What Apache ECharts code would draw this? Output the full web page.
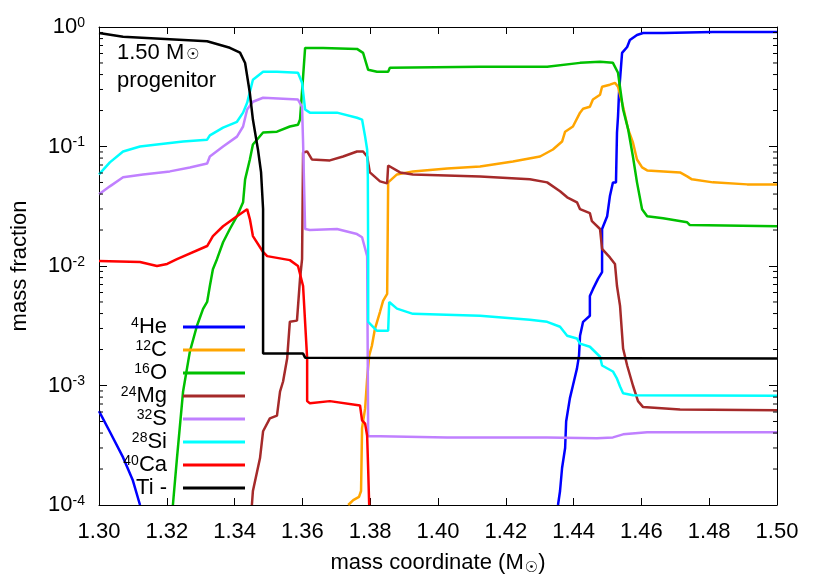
<!DOCTYPE html>
<html>
<head>
<meta charset="utf-8">
<script src="https://cdn.jsdelivr.net/npm/echarts@6/dist/echarts.min.js"></script>
<style>
html,body{margin:0;padding:0;background:#fff;}
#chart{width:830px;height:581px;}
</style>
</head>
<body>
<div id="chart"></div>
<script>
// ---- data (mass coordinate, mass fraction) ----
const xTicks = [1.30, 1.32, 1.34, 1.36, 1.38, 1.40, 1.42, 1.44, 1.46, 1.48, 1.50];
const yMinorTicks = [2e-4,3e-4,4e-4,5e-4,6e-4,7e-4,8e-4,9e-4,
                     2e-3,3e-3,4e-3,5e-3,6e-3,7e-3,8e-3,9e-3,
                     2e-2,3e-2,4e-2,5e-2,6e-2,7e-2,8e-2,9e-2,
                     0.2,0.3,0.4,0.5,0.6,0.7,0.8,0.9];
const names = ['4He','12C','16O','24Mg','32S','28Si','40Ca','Ti -'];
const colors = ['#0000ff','#ffa500','#00c000','#a52a2a','#c080ff','#00ffff','#ff0000','#000000'];

const he = [[1.3000,6.1e-4],[1.3032,4.1e-4],[1.3071,2.5e-4],[1.3100,1.6e-4],[1.3121,1.0e-4],
  [1.40,'-'],
  [1.4354,1.0e-4],[1.4360,1.31e-4],[1.4366,2.04e-4],[1.4375,3.0e-4],[1.4378,5.0e-4],[1.4389,7.8e-4],
  [1.4398,1.0e-3],[1.4410,1.39e-3],[1.4416,1.78e-3],[1.4419,2.61e-3],[1.4428,3.41e-3],[1.4448,3.83e-3],
  [1.4448,5.6e-3],[1.4457,6.4e-3],[1.4472,7.8e-3],[1.4484,8.9e-3],[1.4484,2.04e-2],[1.4499,2.61e-2],
  [1.4507,3.83e-2],[1.4516,5.0e-2],[1.4525,5.0e-2],[1.4528,0.131],[1.4531,0.178],[1.4534,0.282],
  [1.4543,0.607],[1.4558,0.681],[1.4566,0.779],[1.4587,0.858],[1.4605,0.891],[1.4664,0.891],
  [1.4811,0.909],[1.5000,0.909]];

const c12 = [[1.3735,1.0e-4],[1.3750,1.10e-4],[1.3767,1.17e-4],[1.3773,1.31e-4],[1.3776,4.4e-4],
  [1.3779,5.0e-4],[1.3785,6.4e-4],[1.3791,1.14e-3],[1.3797,1.78e-3],[1.3805,2.15e-3],[1.3814,2.98e-3],
  [1.3829,4.14e-3],[1.3838,5.11e-3],[1.3850,5.84e-3],[1.3853,0.0501],[1.3856,0.0501],[1.3879,0.0584],
  [1.3926,0.0619],[1.4027,0.0656],[1.4124,0.0681],[1.4221,0.075],[1.4301,0.0825],[1.4339,0.0944],
  [1.4366,0.110],[1.4375,0.133],[1.4398,0.147],[1.4419,0.192],[1.4428,0.207],[1.4448,0.215],
  [1.4457,0.247],[1.4478,0.271],[1.4484,0.316],[1.4507,0.329],[1.4522,0.341],[1.4531,0.316],
  [1.4546,0.215],[1.4561,0.139],[1.4575,0.108],[1.4587,0.0779],[1.4602,0.0668],[1.4617,0.0631],
  [1.4714,0.0607],[1.4735,0.0562],[1.4749,0.0531],[1.4811,0.0501],[1.4912,0.0482],[1.5000,0.0482]];

const o16 = [[1.3218,1.0e-4],[1.3230,2.47e-4],[1.3248,8.9e-4],[1.3268,1.92e-3],[1.3289,3.16e-3],
  [1.3307,4.38e-3],[1.3319,5.0e-3],[1.3327,6.8e-3],[1.3336,9.4e-3],[1.3348,0.0114],[1.3366,0.0158],
  [1.3386,0.0204],[1.3407,0.0261],[1.3425,0.0341],[1.3431,0.0531],[1.3445,0.0779],[1.3454,0.104],
  [1.3484,0.131],[1.3525,0.133],[1.3563,0.147],[1.3587,0.152],[1.3593,0.168],[1.3602,0.383],
  [1.3608,0.668],[1.3661,0.668],[1.3761,0.656],[1.3779,0.607],[1.3794,0.438],[1.3820,0.422],
  [1.3853,0.422],[1.3858,0.455],[1.4124,0.464],[1.4322,0.464],[1.4419,0.501],[1.4478,0.511],
  [1.4516,0.501],[1.4531,0.414],[1.4546,0.204],[1.4561,0.139],[1.4575,0.0825],[1.4587,0.0501],
  [1.4602,0.0299],[1.4617,0.0261],[1.4664,0.0251],[1.4735,0.0232],[1.4743,0.0220],[1.5000,0.0215]];

const mg24 = [[1.3451,1.0e-4],[1.3454,1.31e-4],[1.3475,2.47e-4],[1.3484,4.14e-4],[1.3504,5.3e-4],
  [1.3525,5.6e-4],[1.3534,8.9e-4],[1.3543,1.08e-3],[1.3555,1.68e-3],[1.3563,3.42e-3],[1.3584,3.49e-3],
  [1.3593,7.8e-3],[1.3599,0.0114],[1.3602,0.0891],[1.3614,0.0909],[1.3628,0.0779],[1.3681,0.0765],
  [1.3720,0.0825],[1.3761,0.0909],[1.3779,0.0909],[1.3791,0.0825],[1.3799,0.0607],[1.3829,0.0511],
  [1.3850,0.0491],[1.3853,0.0694],[1.3888,0.0607],[1.3926,0.0584],[1.4124,0.0562],[1.4271,0.0531],
  [1.4322,0.0501],[1.4360,0.0422],[1.4381,0.0376],[1.4410,0.0341],[1.4419,0.0299],[1.4448,0.0277],
  [1.4454,0.0237],[1.4478,0.0204],[1.4484,0.0139],[1.4507,0.0118],[1.4522,0.0104],[1.4528,6.8e-3],
  [1.4537,4.64e-3],[1.4546,2.04e-3],[1.4558,1.47e-3],[1.4575,1.0e-3],[1.4590,7.4e-4],[1.4605,6.6e-4],
  [1.4714,6.3e-4],[1.5000,6.2e-4]];

const s32 = [[1.3000,0.0398],[1.3032,0.0464],[1.3071,0.0552],[1.3130,0.0584],[1.3209,0.0619],
  [1.3268,0.0668],[1.3319,0.0721],[1.3327,0.0825],[1.3366,0.100],[1.3407,0.121],[1.3425,0.147],
  [1.3437,0.204],[1.3454,0.237],[1.3484,0.256],[1.3543,0.251],[1.3587,0.247],[1.3599,0.215],
  [1.3602,0.108],[1.3608,0.0204],[1.3622,0.0200],[1.3702,0.0204],[1.3761,0.0185],[1.3776,0.0174],
  [1.3791,0.0121],[1.3794,3.76e-4],[1.3829,3.76e-4],[1.4027,3.68e-4],[1.4322,3.68e-4],[1.4469,3.62e-4],
  [1.4516,3.68e-4],[1.4546,3.90e-4],[1.4617,4.06e-4],[1.5000,4.06e-4]];

const si28 = [[1.3000,0.0584],[1.3032,0.0736],[1.3071,0.0909],[1.3121,0.100],[1.3171,0.104],
  [1.3248,0.110],[1.3319,0.114],[1.3327,0.124],[1.3366,0.144],[1.3407,0.161],[1.3425,0.192],
  [1.3437,0.232],[1.3454,0.362],[1.3484,0.422],[1.3525,0.422],[1.3587,0.414],[1.3599,0.341],
  [1.3608,0.204],[1.3622,0.192],[1.3702,0.192],[1.3761,0.174],[1.3776,0.168],[1.3785,0.121],
  [1.3791,0.0944],[1.3793,0.0562],[1.3794,0.0114],[1.3794,3.41e-3],[1.3799,3.29e-3],[1.3820,2.87e-3],
  [1.3853,2.87e-3],[1.3856,5.0e-3],[1.3879,4.4e-3],[1.3926,3.98e-3],[1.4124,3.83e-3],[1.4271,3.55e-3],
  [1.4322,3.41e-3],[1.4360,3.10e-3],[1.4381,2.61e-3],[1.4410,2.47e-3],[1.4419,2.24e-3],[1.4448,2.11e-3],
  [1.4478,1.74e-3],[1.4484,1.47e-3],[1.4516,1.31e-3],[1.4528,1.14e-3],[1.4537,9.8e-4],[1.4546,8.6e-4],
  [1.4575,8.3e-4],[1.5000,8.2e-4]];

const ca40 = [[1.3000,0.0110],[1.3121,0.0108],[1.3171,0.0100],[1.3201,0.0104],[1.3230,0.0114],
  [1.3319,0.0147],[1.3336,0.0178],[1.3366,0.0215],[1.3407,0.0261],[1.3437,0.0299],[1.3445,0.0247],
  [1.3454,0.0178],[1.3484,0.0131],[1.3496,0.0121],[1.3563,0.0112],[1.3587,0.0100],[1.3602,6.8e-3],
  [1.3614,1.68e-3],[1.3614,7.4e-4],[1.3622,7.1e-4],[1.3681,7.4e-4],[1.3770,6.8e-4],[1.3776,5.1e-4],
  [1.3785,4.8e-4],[1.3791,3.8e-4],[1.3794,2.0e-4],[1.3797,1.0e-4]];

const ti = [[1.3000,0.89],[1.3071,0.83],[1.3319,0.76],[1.3386,0.67],[1.3416,0.61],[1.3431,0.50],
  [1.3445,0.28],[1.3454,0.168],[1.3469,0.094],[1.3478,0.061],[1.3484,0.030],[1.3484,1.85e-3],
  [1.3602,1.85e-3],[1.3608,1.71e-3],[1.5000,1.68e-3]];

const seriesData = [he, c12, o16, mg24, s32, si28, ca40, ti];

// ---- chart ----
const FONT = '"Liberation Sans", Arial, Helvetica, sans-serif';
const SUN = '"DejaVu Sans", sans-serif';
const chart = echarts.init(document.getElementById('chart'), null, {renderer: 'canvas'});

function legendLabel(name) {
  const m = name.match(/^(\d+)(.*)$/);
  return m ? '{s|' + m[1] + '}{n|' + m[2] + '}' : '{n|' + name + '}';
}
function expLabel(v) {
  const e = Math.round(Math.log10(v));
  return '{b|10}{e|' + e + '}';
}

const lineSeries = names.map((n, i) => ({
  name: n,
  type: 'line',
  data: seriesData[i],
  symbol: 'none',
  showSymbol: false,
  clip: true,
  color: colors[i],
  lineStyle: {color: colors[i], width: 2.5},
  z: 2 + i * 0.01,
  animation: false
}));

const minorTickSeries = {
  type: 'custom',
  name: 'minorTicks',
  silent: true,
  clip: false,
  xAxisIndex: 0,
  yAxisIndex: 0,
  data: yMinorTicks.map(v => [xTicks[0], v]),
  renderItem: function (params, api) {
    const cs = params.coordSys;
    const y = api.coord([api.value(0), api.value(1)])[1];
    const len = 4;
    return {
      type: 'group',
      children: [
        {type: 'line', shape: {x1: cs.x, y1: y, x2: cs.x + len, y2: y}, style: {stroke: '#000', lineWidth: 1}},
        {type: 'line', shape: {x1: cs.x + cs.width - len, y1: y, x2: cs.x + cs.width, y2: y}, style: {stroke: '#000', lineWidth: 1}}
      ]
    };
  },
  z: 5,
  animation: false
};

const axisLineStyle = {show: true, lineStyle: {color: '#000', width: 1}};

const option = {
  backgroundColor: '#ffffff',
  animation: false,
  textStyle: {fontFamily: FONT},
  grid: {left: 99, right: 53, top: 27, bottom: 74, containLabel: false},
  title: {
    text: '{a|1.50 M}{sun|☉}\n{a|progenitor}',
    left: 112,
    top: 34,
    textStyle: {
      fontWeight: 'normal',
      rich: {
        a: {fontFamily: FONT, fontSize: 22, fontWeight: 'normal', color: '#000', lineHeight: 28},
        sun: {fontFamily: SUN, fontSize: 15, fontWeight: 'normal', color: '#000', lineHeight: 14, verticalAlign: 'bottom', padding: [0,0,4,2]}
      }
    }
  },
  legend: {
    data: names,
    orient: 'vertical',
    align: 'right',
    right: 585,
    top: 316,
    padding: 0,
    icon: 'rect',
    itemWidth: 62,
    itemHeight: 3,
    itemGap: 1,
    selectedMode: false,
    formatter: legendLabel,
    textStyle: {
      rich: {
        s: {fontFamily: FONT, fontSize: 14, color: '#000', verticalAlign: 'top', lineHeight: 14},
        n: {fontFamily: FONT, fontSize: 22, color: '#000', lineHeight: 22, padding: [0, 11, 0, 0]}
      }
    }
  },
  xAxis: [{
    type: 'value',
    min: xTicks[0],
    max: xTicks[xTicks.length - 1],
    interval: 0.02,
    position: 'bottom',
    name: '{a|mass coordinate (M}{sun|☉}{a|)}',
    nameLocation: 'middle',
    nameGap: 45,
    nameTextStyle: {
      rich: {
        a: {fontFamily: FONT, fontSize: 22, color: '#000', lineHeight: 26},
        sun: {fontFamily: SUN, fontSize: 15, color: '#000', lineHeight: 12, verticalAlign: 'bottom', padding: [0,0,0,1]}
      }
    },
    axisLine: axisLineStyle,
    axisTick: {show: true, inside: true, length: 7, lineStyle: {color: '#000'}},
    axisLabel: {show: true, margin: 16, fontSize: 22, color: '#000', fontFamily: FONT,
      formatter: v => v.toFixed(2)},
    splitLine: {show: false}
  }, {
    type: 'value',
    min: xTicks[0],
    max: xTicks[xTicks.length - 1],
    interval: 0.02,
    position: 'top',
    axisLine: axisLineStyle,
    axisTick: {show: true, inside: true, length: 7, lineStyle: {color: '#000'}},
    axisLabel: {show: false},
    splitLine: {show: false}
  }],
  yAxis: [{
    type: 'log',
    logBase: 10,
    min: 1e-4,
    max: 1,
    position: 'left',
    name: 'mass fraction',
    nameLocation: 'middle',
    nameGap: 68,
    nameRotate: 90,
    nameTextStyle: {fontFamily: FONT, fontSize: 22, color: '#000'},
    axisLine: axisLineStyle,
    axisTick: {show: true, inside: true, length: 8, lineStyle: {color: '#000'}},
    minorTick: {show: false},
    axisLabel: {
      show: true, margin: 14, formatter: expLabel,
      rich: {
        b: {fontFamily: FONT, fontSize: 22, color: '#000', lineHeight: 22},
        e: {fontFamily: FONT, fontSize: 14, color: '#000', verticalAlign: 'top', lineHeight: 14}
      }
    },
    splitLine: {show: false}
  }, {
    type: 'log',
    logBase: 10,
    min: 1e-4,
    max: 1,
    position: 'right',
    axisLine: axisLineStyle,
    axisTick: {show: true, inside: true, length: 8, lineStyle: {color: '#000'}},
    axisLabel: {show: false},
    splitLine: {show: false}
  }],
  series: lineSeries.concat([minorTickSeries])
};

chart.setOption(option);
</script>
</body>
</html>
